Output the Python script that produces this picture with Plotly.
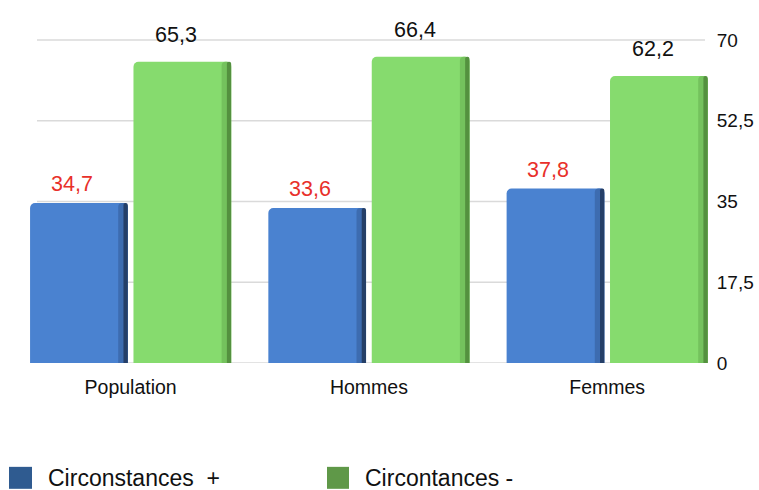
import plotly.graph_objects as go

categories = ["Population", "Hommes", "Femmes"]
circ_plus = [34.7, 33.6, 37.8]
circ_moins = [65.3, 66.4, 62.2]
series_names = ["Circonstances  +", "Circontances -"]
y_ticks = [0, 17.5, 35, 52.5, 70]
y_tick_labels = ["0", "17,5", "35", "52,5", "70"]

FONT = "Liberation Sans, Arial, Helvetica, sans-serif"
BLUE_FACE = "#4a82d0"
BLUE_MID = "#3d6cb0"
BLUE_DARK = "#253f68"
GREEN_FACE = "#86db6e"
GREEN_MID = "#74c25d"
GREEN_DARK = "#54913f"
BLUE_KEY = "#2f5b90"
GREEN_KEY = "#5f9848"

# plot area in pixels: x 11..712, y 16.5..363
L, R, T, B = 11, 712, 16.5, 363
W, H = R - L, B - T
X_RANGE = [-0.502, 2.44]
PX_PER_CAT = W / (X_RANGE[1] - X_RANGE[0])

# bar geometry in category units
BAR_W = 0.41
BLUE_OFF = -0.422
GREEN_OFF = 0.012
SIDE_MID_W = 0.04
SIDE_DARK_W = 0.018


def px_x(p):
    return (p - L) / W


def px_y(p):
    return (B - p) / H


fig = go.Figure()


def add_bar(values, off, width, color, radius):
    fig.add_trace(go.Bar(
        x=categories, y=values, offset=off, width=width, showlegend=False,
        hoverinfo="skip",
        marker=dict(color=color, line=dict(width=0), cornerradius=radius),
    ))


# front faces, then shaded strips on the right-hand side of each bar
for vals, off, face, mid, dark in [
    (circ_plus, BLUE_OFF, BLUE_FACE, BLUE_MID, BLUE_DARK),
    (circ_moins, GREEN_OFF, GREEN_FACE, GREEN_MID, GREEN_DARK),
]:
    add_bar(vals, off, BAR_W, face, 5)
    add_bar(vals, off + BAR_W - SIDE_MID_W, SIDE_MID_W, mid, 4)
    add_bar(vals, off + BAR_W - SIDE_DARK_W, SIDE_DARK_W, dark, 3)

# horizontal gridlines at tick values
shapes = []
for t in y_ticks:
    shapes.append(dict(type="line", xref="paper", yref="y", x0=px_x(37), x1=px_x(705),
                       y0=t, y1=t, line=dict(color="#dadada", width=1.5), layer="below"))

# value labels above the bars
annotations = []
for i, cat in enumerate(categories):
    annotations.append(dict(x=i, xshift=(BLUE_OFF + BAR_W / 2) * PX_PER_CAT - 7,
                            y=circ_plus[i], yref="y", xref="x",
                            text=f"{circ_plus[i]:.1f}".replace(".", ","),
                            showarrow=False, yanchor="bottom", yshift=5,
                            font=dict(family=FONT, size=21.5, color="#e8302a")))
    annotations.append(dict(x=i, xshift=(GREEN_OFF + BAR_W / 2) * PX_PER_CAT - 6,
                            y=circ_moins[i], yref="y", xref="x",
                            text=f"{circ_moins[i]:.1f}".replace(".", ","),
                            showarrow=False, yanchor="bottom", yshift=13,
                            font=dict(family=FONT, size=21.5, color="#111111")))

# legend keys: large squares with labels below the chart
key_x = [(9, 32), (327, 349)]
text_x = [46, 363]
for name, col, (x0, x1), tx in zip(series_names, [BLUE_KEY, GREEN_KEY], key_x, text_x):
    shapes.append(dict(type="rect", xref="paper", yref="paper",
                       x0=px_x(x0), x1=px_x(x1), y0=px_y(489), y1=px_y(467),
                       fillcolor=col, line=dict(width=0)))
    annotations.append(dict(x=px_x(tx), y=px_y(478), xref="paper", yref="paper",
                            xanchor="left", yanchor="middle", showarrow=False,
                            text=name, font=dict(family=FONT, size=23, color="#111111")))

fig.update_layout(
    width=759, height=490,
    margin=dict(l=L, r=759 - R, t=T, b=490 - B),
    paper_bgcolor="white", plot_bgcolor="white",
    barmode="overlay",
    separators=", ",
    showlegend=False,
    shapes=shapes, annotations=annotations,
    font=dict(family=FONT, color="#111111"),
    xaxis=dict(range=X_RANGE, showgrid=False, zeroline=False, showline=False,
               automargin=False,
               ticks="outside", ticklen=7, tickcolor="rgba(0,0,0,0)",
               tickfont=dict(family=FONT, size=19.5, color="#111111")),
    yaxis=dict(range=[0, 75], side="right", showgrid=False, zeroline=False, showline=False,
               automargin=False,
               tickvals=y_ticks, ticktext=y_tick_labels,
               ticks="outside", ticklen=0, tickcolor="rgba(0,0,0,0)",
               tickfont=dict(family=FONT, size=19, color="#111111")),
)

fig.write_html("out.html")
